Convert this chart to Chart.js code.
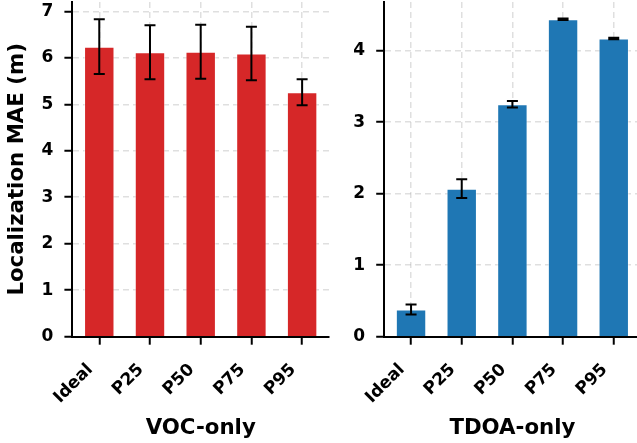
<!DOCTYPE html>
<html>
<head>
<meta charset="utf-8">
<script src="https://cdn.jsdelivr.net/npm/chart.js@4.4.1/dist/chart.umd.min.js"></script>
<style>
  html, body { margin: 0; padding: 0; background: #fff; }
  body { width: 637px; height: 443px; overflow: hidden; position: relative; }
  .panel { position: absolute; top: 0; height: 443px; }
  #leftPanel { left: 0; width: 340px; }
  #rightPanel { left: 335px; width: 310px; }
</style>
</head>
<body>
<div class="panel" id="leftPanel"><canvas id="vocChart"></canvas></div>
<div class="panel" id="rightPanel"><canvas id="tdoaChart"></canvas></div>
<script>
// conditions on the x axis
const conditions = ['Ideal', 'P25', 'P50', 'P75', 'P95'];

// VOC-only localization error (m) and std
const vocMae = [6.24, 6.12, 6.13, 6.09, 5.26];
const vocErr = [0.59, 0.58, 0.58, 0.575, 0.28];

// TDOA-only localization error (m) and std
const tdoaMae = [0.38, 2.07, 3.25, 4.44, 4.17];
const tdoaErr = [0.07, 0.13, 0.045, 0.01, 0.01];

const yTicksVoc = [0, 1, 2, 3, 4, 5, 6, 7];
const yTicksTdoa = [0, 1, 2, 3, 4];

const FONT = "'DejaVu Sans', sans-serif";
const GRID = 'rgba(176,176,176,0.4)';

// black error bars with caps, drawn after the bars
const errorBars = {
    id: 'errorBars',
    afterDatasetsDraw: function (chart, args, opts) {
        const ctx = chart.ctx;
        const xs = chart.scales.x, ys = chart.scales.y;
        const vals = opts.values, errs = opts.errors;
        ctx.save();
        ctx.strokeStyle = '#000';
        ctx.lineWidth = 2;
        for (let i = 0; i < vals.length; i++) {
            const x = xs.getPixelForValue(i);
            const yTop = ys.getPixelForValue(vals[i] + errs[i]);
            const yBot = ys.getPixelForValue(vals[i] - errs[i]);
            ctx.beginPath();
            ctx.moveTo(x, yTop); ctx.lineTo(x, yBot);
            ctx.moveTo(x - 5.5, yTop); ctx.lineTo(x + 5.5, yTop);
            ctx.moveTo(x - 5.5, yBot); ctx.lineTo(x + 5.5, yBot);
            ctx.stroke();
        }
        ctx.restore();
    }
};

function makeChart(id, title, values, errors, yMax, yTicks, color, yWidth, padRight, xMax, yLabel) {
    const ctx = document.getElementById(id);
    return new Chart(ctx, {
        type: 'bar',
        data: {
            datasets: [{
                data: values.map((v, i) => ({x: i, y: v})),
                backgroundColor: color,
                borderColor: 'rgba(255,255,255,0.45)',
                borderWidth: 1,
                barPercentage: 0.6,
                categoryPercentage: 1.0
            }]
        },
        options: {
            responsive: true,
            maintainAspectRatio: false,
            animation: false,
            events: [],
            layout: { padding: { top: 2, right: padRight, left: 0, bottom: 0 } },
            plugins: {
                legend: { display: false },
                tooltip: { enabled: false },
                errorBars: { values: values, errors: errors }
            },
            scales: {
                x: {
                    type: 'linear',
                    min: -0.53,
                    max: xMax,
                    offset: false,
                    z: 1,
                    afterFit: function (s) {
                        s.height = 106.3;
                        s.paddingLeft = 0;
                        s.paddingRight = 0;
                    },
                    afterBuildTicks: function (s) {
                        s.ticks = conditions.map((c, i) => ({value: i}));
                    },
                    ticks: {
                        includeBounds: false,
                        autoSkip: false,
                        minRotation: 45,
                        maxRotation: 45,
                        padding: 15,
                        labelOffset: -9,
                        color: '#000',
                        font: { family: FONT, size: 17, weight: 'bold' },
                        callback: function (v) { return conditions[v]; }
                    },
                    grid: {
                        offset: false,
                        color: GRID,
                        lineWidth: 1.5,
                        tickColor: '#000',
                        tickWidth: 2,
                        tickLength: 8,
                        tickBorderDash: []
                    },
                    border: { color: '#000', width: 2, dash: [6, 4] },
                    title: {
                        display: true,
                        text: title,
                        color: '#000',
                        padding: { top: 0, bottom: 2 },
                        font: { family: FONT, size: 21.3, weight: 'bold' }
                    }
                },
                y: {
                    min: 0,
                    max: yMax,
                    z: 1,
                    afterFit: function (s) {
                        s.width = yWidth;
                        s.paddingTop = 0;
                        s.paddingBottom = 0;
                    },
                    afterBuildTicks: function (s) {
                        s.ticks = yTicks.map(v => ({value: v}));
                    },
                    ticks: {
                        includeBounds: false,
                        padding: 11,
                        color: '#000',
                        font: { family: FONT, size: 17, weight: 'bold' }
                    },
                    grid: {
                        color: GRID,
                        lineWidth: 1.5,
                        tickColor: '#000',
                        tickWidth: 2,
                        tickLength: 8,
                        tickBorderDash: []
                    },
                    border: { color: '#000', width: 2, dash: [6, 4] },
                    title: {
                        display: !!yLabel,
                        text: yLabel || '',
                        color: '#000',
                        padding: { top: 5, bottom: 0 },
                        font: { family: FONT, size: 21.3, weight: 'bold' }
                    }
                }
            }
        },
        plugins: [errorBars]
    });
}

makeChart('vocChart', 'VOC-only', vocMae, vocErr, 7.2, yTicksVoc, '#d62728', 72.4, 11, 4.53, 'Localization MAE (m)');
makeChart('tdoaChart', 'TDOA-only', tdoaMae, tdoaErr, 4.68, yTicksTdoa, '#1f77b4', 49.2, 4.4, 4.53, '');
</script>
</body>
</html>
